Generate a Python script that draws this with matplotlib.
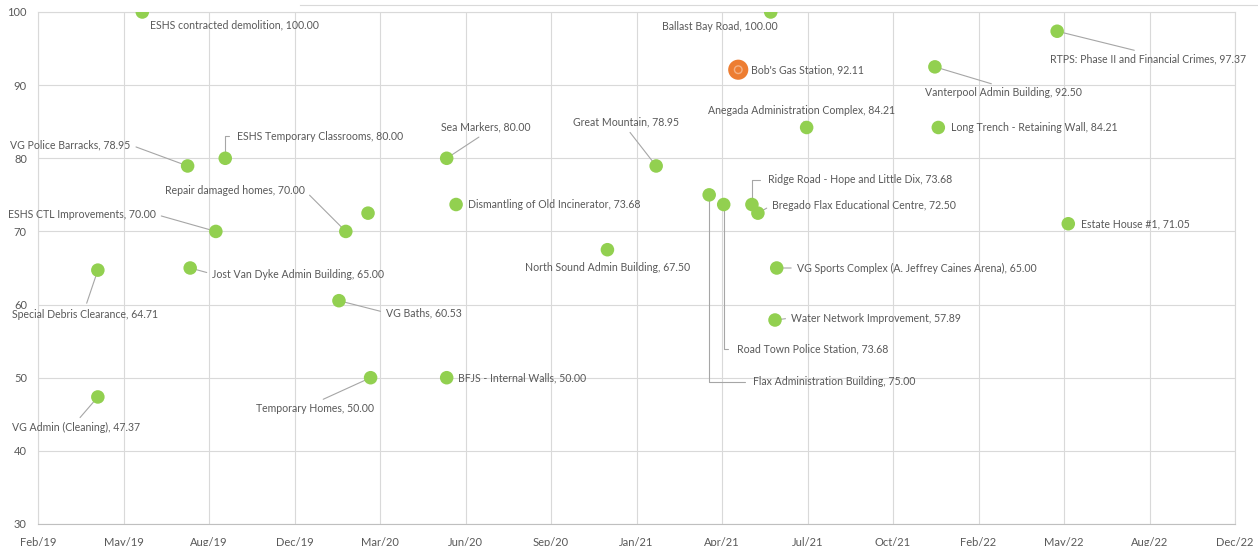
import matplotlib
matplotlib.use("Agg")
import matplotlib.pyplot as plt
import matplotlib.dates as mdates
from matplotlib.lines import Line2D
import pandas as pd

# project names, completion dates and scores
projects = [
    "ESHS contracted demolition", "Ballast Bay Road", "Bob's Gas Station",
    "RTPS: Phase II and Financial Crimes", "Vanterpool Admin Building",
    "Anegada Administration Complex", "Long Trench - Retaining Wall",
    "VG Police Barracks", "ESHS Temporary Classrooms", "Sea Markers",
    "Great Mountain", "Repair damaged homes", "",
    "ESHS CTL Improvements", "Dismantling of Old Incinerator",
    "North Sound Admin Building", "Flax Administration Building",
    "Road Town Police Station", "Ridge Road - Hope and Little Dix",
    "Bregado Flax Educational Centre", "Estate House #1",
    "Special Debris Clearance", "Jost Van Dyke Admin Building",
    "VG Sports Complex (A. Jeffrey Caines Arena)", "Water Network Improvement",
    "VG Baths", "Temporary Homes", "BFJS - Internal Walls", "VG Admin (Cleaning)",
]
dates = pd.to_datetime([
    "2019-06-06", "2021-06-10", "2021-05-03",
    "2022-05-11", "2021-12-19",
    "2021-07-22", "2021-12-23",
    "2019-07-29", "2019-09-11", "2020-05-27",
    "2021-01-27", "2020-01-30", "2020-02-25",
    "2019-08-31", "2020-06-07",
    "2020-12-01", "2021-03-30",
    "2021-04-16", "2021-05-19",
    "2021-05-26", "2022-05-24",
    "2019-04-15", "2019-08-01",
    "2021-06-17", "2021-06-15",
    "2020-01-22", "2020-02-28", "2020-05-27", "2019-04-15",
])
scores = [100.00, 100.00, 92.11,
          97.37, 92.50,
          84.21, 84.21,
          78.95, 80.00, 80.00,
          78.95, 70.00, 72.50,
          70.00, 73.68,
          67.50, 75.00,
          73.68, 73.68,
          72.50, 71.05,
          64.71, 65.00,
          65.00, 57.89,
          60.53, 50.00, 50.00, 47.37]
highlight = "Bob's Gas Station"

# label placement: (dx, dy) in pixels, alignment, leader type, leader anchor
label_pos = [
    (8, -13, "left", None, None), (7, -15, "right", None, None), (13, 0, "left", None, None),
    (-7, -28, "left", "line", (0.5, 1)), (-10, -26, "left", "line", (0.5, 1)),
    (-5, 17, "center", "line", (0.5, 0)), (13, 0, "left", None, None),
    (-57, 21, "right", "line", (1, 0.5)), (12, 22, "left", "elbow", (0, 0.5)), (-6, 31, "left", "line", (0.5, 0)),
    (-30, 44, "center", "line", (0.5, 0)), (-41, 41, "right", "line", (1, 0.5)), None,
    (-60, 17, "right", "line", (1, 0.5)), (12, 0, "left", None, None),
    (0, -18, "center", None, None), (44, -187, "left", "elbow", (0, 0.5)),
    (13, -144, "left", "elbow", (0, 0.5)), (16, 25, "left", "elbow", (0, 0.5)),
    (14, 8, "left", "line", (0, 0.5)), (13, 0, "left", None, None),
    (-13, -44, "center", "line", (0.5, 1)), (22, -6, "left", "line", (0, 0.5)),
    (20, 0, "left", "line", (0, 0.5)), (16, 2, "left", "line", (0, 0.5)),
    (47, -12, "left", "line", (0, 0.5)), (-56, -31, "center", "line", (0.5, 1)),
    (11, 0, "left", None, None), (-22, -31, "center", "line", (0.5, 1)),
]

plt.rcParams['font.family'] = ['Lato', 'DejaVu Sans']
text_col = "#595959"
grid_col = "#D9D9D9"

fig = plt.figure(figsize=(12.58, 5.46), dpi=100)
ax = fig.add_axes([38 / 1258, 22 / 546, 1197 / 1258, 512 / 546])

colors = ["#ED7D31" if p == highlight else "#92D050" for p in projects]
sizes = [210 if p == highlight else 95 for p in projects]
ax.scatter(dates, scores, s=sizes, c=colors, zorder=4, linewidths=0)
hx = [d for d, p in zip(dates, projects) if p == highlight]
hy = [v for v, p in zip(scores, projects) if p == highlight]
ax.scatter(hx, hy, s=30, facecolors="none", edgecolors="#F4B183", linewidths=1.0, zorder=5)

for name, d, v, lp in zip(projects, dates, scores, label_pos):
    if lp is None or not name:
        continue
    dx, dy, ha, leader, rel = lp
    props = None
    if leader == "line":
        props = dict(arrowstyle="-", color="#A6A6A6", lw=0.8, relpos=rel, shrinkA=2, shrinkB=0)
    elif leader == "elbow":
        props = dict(arrowstyle="-", color="#A6A6A6", lw=0.8, relpos=rel, shrinkA=4, shrinkB=0,
                     connectionstyle="angle,angleA=0,angleB=90,rad=0")
    ax.annotate(f"{name}, {v:.2f}", xy=(d, v), xytext=(dx, dy), textcoords="offset pixels",
                ha=ha, va="center", fontsize=7.6, color=text_col, arrowprops=props, zorder=3)

# Excel-style date axis: 100-day major unit
x_min = pd.Timestamp("2019-02-04")
x_max = x_min + pd.Timedelta(days=1400)
ax.set_xlim(x_min, x_max)
ax.set_xticks(pd.date_range(x_min, x_max, freq="100D"))
ax.xaxis.set_major_formatter(mdates.DateFormatter("%b/%y"))
ax.set_ylim(30, 100)
ax.set_yticks(range(30, 101, 10))

ax.grid(True, color=grid_col, lw=0.8)
ax.set_axisbelow(True)
for s in ax.spines.values():
    s.set_color(grid_col)
    s.set_linewidth(0.8)
ax.spines["bottom"].set_color("#BFBFBF")
ax.tick_params(length=0, labelsize=8, labelcolor=text_col)
ax.tick_params(axis="x", pad=9)
ax.tick_params(axis="y", pad=8)

fig.add_artist(Line2D([300 / 1258, 1], [541 / 546, 541 / 546], color=grid_col, lw=0.8))

fig.savefig("out.png", dpi=100)
